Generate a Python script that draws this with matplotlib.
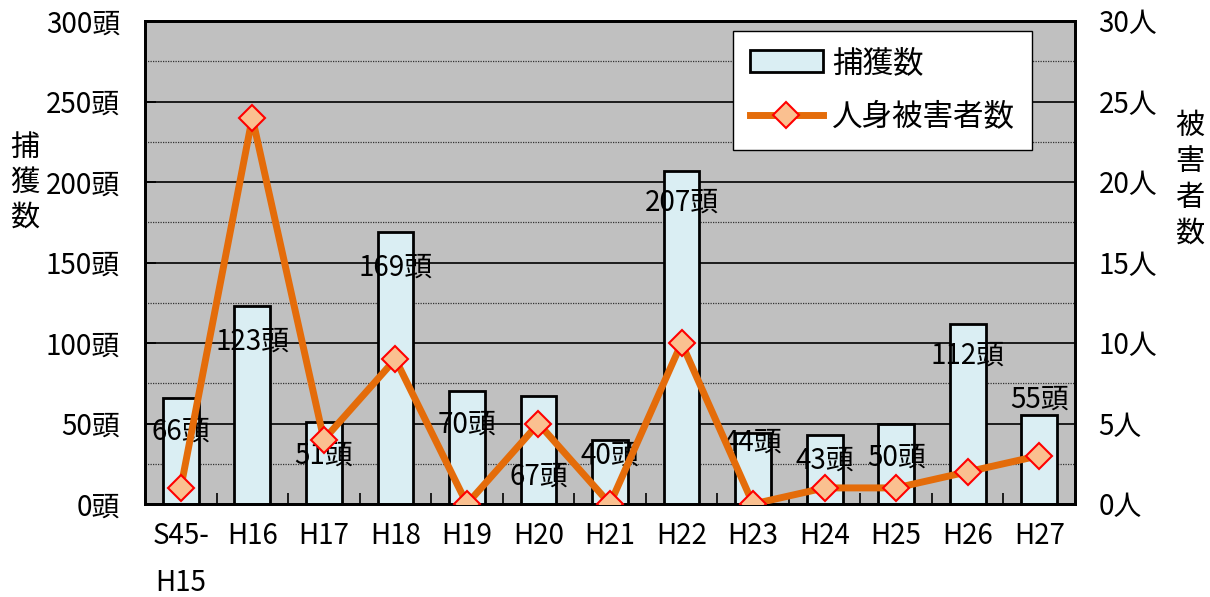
import numpy as np
import matplotlib.pyplot as plt
from matplotlib.ticker import MultipleLocator

plt.rcParams['font.family'] = ['Noto Sans CJK JP', 'DejaVu Sans']

# データ
categories = ['S45-\nH15', 'H16', 'H17', 'H18', 'H19', 'H20', 'H21',
              'H22', 'H23', 'H24', 'H25', 'H26', 'H27']
captures = [66, 123, 51, 169, 70, 67, 40, 207, 44, 43, 50, 112, 55]
victims = [1, 24, 4, 9, 0, 5, 0, 10, 0, 1, 1, 2, 3]
# ラベルの縦位置（頭）
label_y = [45, 101, 30, 147, 49, 17, 30, 187, 38, 27, 29, 92, 65]

FS = 20

fig = plt.figure(figsize=(12.1, 5.97), dpi=100)
ax = fig.add_axes([145 / 1210, 1 - 504 / 597, 930 / 1210, 483 / 597])
ax.set_facecolor('#C0C0C0')

x = np.arange(len(categories))
ax.bar(x, captures, width=0.5, color='#DAEEF3', edgecolor='black',
       linewidth=2, label='捕獲数', zorder=3)
for xi, v, ly in zip(x, captures, label_y):
    ax.text(xi, ly, f'{v}頭', ha='center', va='center', fontsize=FS, zorder=6)

ax.set_xlim(-0.5, len(categories) - 0.5)
ax.set_ylim(0, 300)
ax.yaxis.set_major_locator(MultipleLocator(50))
ax.yaxis.set_minor_locator(MultipleLocator(25))
ax.grid(axis='y', which='major', color='black', linewidth=1.2, zorder=1)
ax.grid(axis='y', which='minor', color='#333333', linewidth=0.9,
        linestyle=(0, (1, 1)), zorder=1)
ax.set_axisbelow(True)
ax.set_yticks(np.arange(0, 301, 50))
ax.set_yticklabels([f'{v}頭' for v in range(0, 301, 50)], fontsize=FS)
ax.set_xticks(x)
ax.set_xticklabels(categories, fontsize=FS, linespacing=1.75, va='top')
ax.set_xticks(np.arange(-0.5, len(categories)), minor=True)
ax.tick_params(axis='x', which='major', length=0, pad=12)
ax.tick_params(axis='x', which='minor', length=8, direction='in', width=1.2)
ax.tick_params(axis='y', which='major', length=8, direction='in', width=1.2, pad=18)
ax.tick_params(axis='y', which='minor', length=0)
for s in ax.spines.values():
    s.set_linewidth(2)

ax2 = ax.twinx()
ax2.plot(x, victims, color='#E46C0A', linewidth=5, marker='D',
         markersize=13, markerfacecolor='#FAC090', markeredgecolor='red',
         markeredgewidth=1.5, label='人身被害者数', zorder=5)
ax2.set_ylim(0, 30)
ax2.set_yticks(np.arange(0, 31, 5))
ax2.set_yticklabels([f'{v}人' for v in range(0, 31, 5)], fontsize=FS)
ax2.tick_params(axis='y', length=0, pad=17)
for s in ax2.spines.values():
    s.set_linewidth(2)

fig.text(25 / 1210, 1 - 183 / 597, '捕\n獲\n数', fontsize=FS + 1, ha='center',
         va='center', linespacing=1.2)
fig.text(1190 / 1210, 1 - 180 / 597, '被\n害\n者\n数', fontsize=FS + 1, ha='center',
         va='center', linespacing=1.25)

h1, l1 = ax.get_legend_handles_labels()
h2, l2 = ax2.get_legend_handles_labels()
leg = ax2.legend(h1 + h2, l1 + l2, loc='upper right',
                 bbox_to_anchor=(1032 / 1210, 1 - 31 / 597),
                 bbox_transform=fig.transFigure, fontsize=FS + 2, frameon=True,
                 fancybox=False, edgecolor='black', framealpha=1,
                 labelspacing=0.75, borderpad=0.55, handlelength=2.4,
                 handletextpad=0.3, borderaxespad=0)
leg.get_frame().set_linewidth(1)

fig.savefig('out.png', dpi=100)
